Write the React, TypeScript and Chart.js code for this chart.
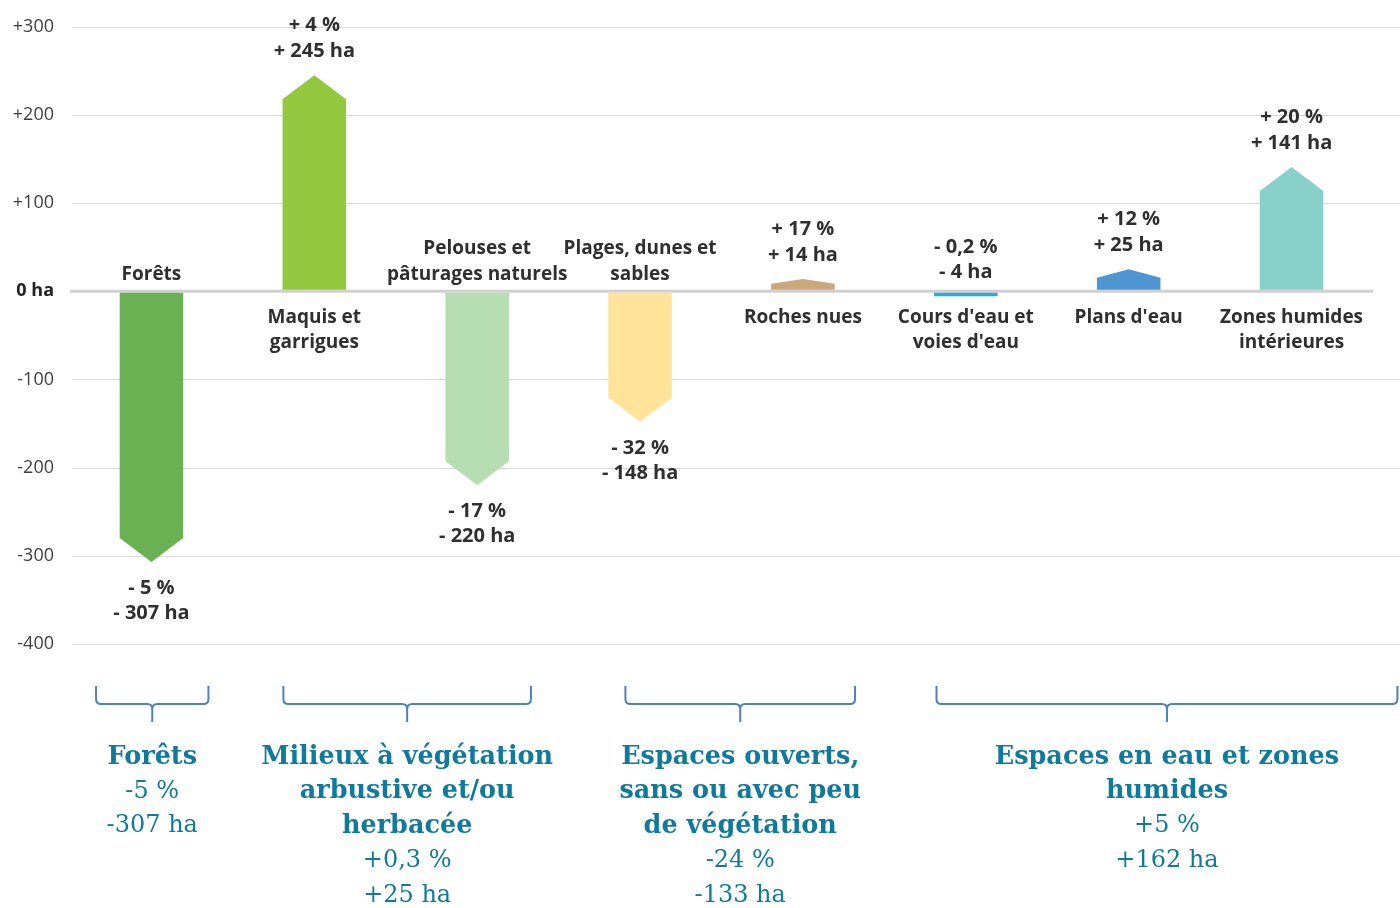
import React, { useEffect, useRef } from "react";
import { Chart, registerables } from "chart.js";

Chart.register(...registerables);

// ---- Data ----
const categoryLines: string[][] = [
  ["Forêts"],
  ["Maquis et", "garrigues"],
  ["Pelouses et", "pâturages naturels"],
  ["Plages, dunes et", "sables"],
  ["Roches nues"],
  ["Cours d'eau et", "voies d'eau"],
  ["Plans d'eau"],
  ["Zones humides", "intérieures"],
];
const changeHa: number[] = [-307, 245, -220, -148, 14, -4, 25, 141];
const changePct: string[] = ["- 5 %", "+ 4 %", "- 17 %", "- 32 %", "+ 17 %", "- 0,2 %", "+ 12 %", "+ 20 %"];
const changeHaText: string[] = ["- 307 ha", "+ 245 ha", "- 220 ha", "- 148 ha", "+ 14 ha", "- 4 ha", "+ 25 ha", "+ 141 ha"];
const barColors: string[] = ["#6AB153", "#93C83E", "#B7DDB3", "#FEE398", "#C9A87B", "#27AAE1", "#4E95D2", "#88D1CB"];

const yMin = -400;
const yMax = 300;
const yStep = 100;

const groupTitles: string[][] = [
  ["Forêts"],
  ["Milieux à végétation", "arbustive et/ou", "herbacée"],
  ["Espaces ouverts,", "sans ou avec peu", "de végétation"],
  ["Espaces en eau et zones", "humides"],
];
const groupPct: string[] = ["-5 %", "+0,3 %", "-24 %", "+5 %"];
const groupHa: string[] = ["-307 ha", "+25 ha", "-133 ha", "+162 ha"];
// bracket spans, in category-index units
const groupFrom: number[] = [-0.34, 0.81, 2.91, 4.82];
const groupTo: number[] = [0.35, 2.33, 4.32, 7.65];

const TEXT_FONT = "'Open Sans', sans-serif";
const LABEL_COLOR = "#2f2f2f";
const GROUP_COLOR = "#0F7A9C";
const BRACKET_COLOR = "#4F81BD";

const drawPlugin = {
  id: "customDraw",
  beforeDatasetsDraw(chart: any) {
    const ctx = chart.ctx;
    const yScale = chart.scales.y;
    const area = chart.chartArea;
    ctx.save();
    ctx.strokeStyle = "#d9d9d9";
    ctx.lineWidth = 1;
    yScale.ticks.forEach((t: any) => {
      if (t.value === 0) return;
      const py = Math.round(yScale.getPixelForValue(t.value)) + 0.5;
      ctx.beginPath();
      ctx.moveTo(area.left + 2, py);
      ctx.lineTo(chart.width, py);
      ctx.stroke();
    });
    ctx.restore();
  },
  afterDatasetsDraw(chart: any) {
    const ctx = chart.ctx;
    const xScale = chart.scales.x;
    const yScale = chart.scales.y;
    const area = chart.chartArea;
    const meta = chart.getDatasetMeta(0);
    const zeroY = yScale.getPixelForValue(0);

    // zero line
    ctx.save();
    ctx.strokeStyle = "#d0d0d0";
    ctx.lineWidth = 3;
    ctx.beginPath();
    ctx.moveTo(area.left, zeroY);
    ctx.lineTo(area.right, zeroY);
    ctx.stroke();
    ctx.restore();

    // arrow bars (start just outside the zero line)
    meta.data.forEach((el: any, i: number) => {
      const { x, y, base, width } = el.getProps(["x", "y", "base", "width"], true);
      const len = Math.abs(base - y);
      const dir = y < base ? 1 : -1;
      const b = base - dir * 1.5;
      const tipY = len < 6 ? y - dir * 1.5 : y;
      const th = len < 6 ? 0 : Math.min(24, len * 0.38);
      const half = width / 2;
      ctx.save();
      ctx.fillStyle = barColors[i];
      ctx.beginPath();
      ctx.moveTo(x - half, b);
      ctx.lineTo(x - half, tipY + dir * th);
      ctx.lineTo(x, tipY);
      ctx.lineTo(x + half, tipY + dir * th);
      ctx.lineTo(x + half, b);
      ctx.closePath();
      ctx.fill();
      ctx.restore();
    });

    // labels
    ctx.save();
    ctx.fillStyle = LABEL_COLOR;
    ctx.textAlign = "center";
    ctx.textBaseline = "middle";
    const lh = 25.5;
    meta.data.forEach((el: any, i: number) => {
      const { x, y } = el.getProps(["x", "y"], true);
      const v = changeHa[i];
      const tiny = Math.abs(v) < 10;
      // value labels
      ctx.font = `bold 20px ${TEXT_FONT}`;
      if (v >= 0 || tiny) {
        const tip = tiny ? zeroY + 5 : y;
        ctx.fillText(changePct[i], x, tip - 24 - lh);
        ctx.fillText(changeHaText[i], x, tip - 24);
      } else {
        ctx.fillText(changePct[i], x, y + 26);
        ctx.fillText(changeHaText[i], x, y + 26 + lh);
      }
      // category labels
      ctx.font = `bold 19px ${TEXT_FONT}`;
      const lines = categoryLines[i];
      if (v < 0 && !tiny) {
        const n = lines.length;
        lines.forEach((ln, k) => ctx.fillText(ln, x, zeroY - 17 - (n - 1 - k) * lh));
      } else {
        lines.forEach((ln, k) => ctx.fillText(ln, x, zeroY + 26 + k * lh));
      }
    });
    ctx.restore();

    // brackets and group labels
    const bTop = area.bottom + 42;
    const bMid = area.bottom + 60;
    const bTip = area.bottom + 78;
    const r = 5;
    groupTitles.forEach((title, g) => {
      const x0 = xScale.getPixelForValue(groupFrom[g]);
      const x1 = xScale.getPixelForValue(groupTo[g]);
      const cx = (x0 + x1) / 2;
      ctx.save();
      ctx.strokeStyle = BRACKET_COLOR;
      ctx.lineWidth = 2;
      ctx.beginPath();
      ctx.moveTo(x0, bTop);
      ctx.lineTo(x0, bMid - r);
      ctx.quadraticCurveTo(x0, bMid, x0 + r, bMid);
      ctx.lineTo(cx - r, bMid);
      ctx.quadraticCurveTo(cx, bMid, cx, bMid + r);
      ctx.lineTo(cx, bTip);
      ctx.moveTo(x1, bTop);
      ctx.lineTo(x1, bMid - r);
      ctx.quadraticCurveTo(x1, bMid, x1 - r, bMid);
      ctx.lineTo(cx + r, bMid);
      ctx.quadraticCurveTo(cx, bMid, cx, bMid + r);
      ctx.stroke();
      ctx.restore();

      ctx.save();
      ctx.fillStyle = GROUP_COLOR;
      ctx.textAlign = "center";
      ctx.textBaseline = "middle";
      const glh = 34.6;
      let yy = area.bottom + 113;
      ctx.font = "bold 25.5px 'DejaVu Serif', serif";
      title.forEach((ln) => {
        ctx.fillText(ln, cx, yy);
        yy += glh;
      });
      ctx.font = "24px 'DejaVu Serif', serif";
      ctx.fillText(groupPct[g], cx, yy);
      yy += glh;
      ctx.fillText(groupHa[g], cx, yy);
      ctx.restore();
    });
  },
};

export default function App() {
  const canvasRef = useRef<HTMLCanvasElement | null>(null);

  useEffect(() => {
    document.body.style.margin = "0";
    const canvas = canvasRef.current;
    if (!canvas) return;
    const chart = new Chart(canvas, {
      type: "bar",
      data: {
        labels: categoryLines.map((l) => l.join(" ")),
        datasets: [
          {
            data: changeHa,
            backgroundColor: "rgba(0,0,0,0)",
            borderWidth: 0,
            categoryPercentage: 1,
            barPercentage: 0.39,
          },
        ],
      },
      options: {
        animation: false,
        responsive: true,
        maintainAspectRatio: false,
        layout: { padding: { top: 26, bottom: 264, right: 27, left: 0 } },
        plugins: { legend: { display: false }, tooltip: { enabled: false } },
        scales: {
          x: { display: false },
          y: {
            min: yMin,
            max: yMax,
            border: { display: false },
            grid: { display: false, drawTicks: false },
            afterFit: (scale: any) => {
              scale.width = 70;
            },
            ticks: {
              stepSize: yStep,
              padding: 16,
              color: (c: any) => (c.tick && c.tick.value === 0 ? "#222" : "#404040"),
              font: (c: any) => ({
                family: "'Open Sans', sans-serif",
                size: 18,
                weight: c.tick && c.tick.value === 0 ? "bold" : "normal",
              }),
              callback: (v: any) => {
                const n = Number(v);
                if (n === 0) return "0 ha";
                return n > 0 ? `+${n}` : `${n}`;
              },
            },
          },
        },
      },
      plugins: [drawPlugin],
    });
    return () => chart.destroy();
  }, []);

  return (
    <div style={{ width: 1400, height: 908, position: "relative", overflow: "hidden", background: "#fff" }}>
      <canvas ref={canvasRef} />
    </div>
  );
}
